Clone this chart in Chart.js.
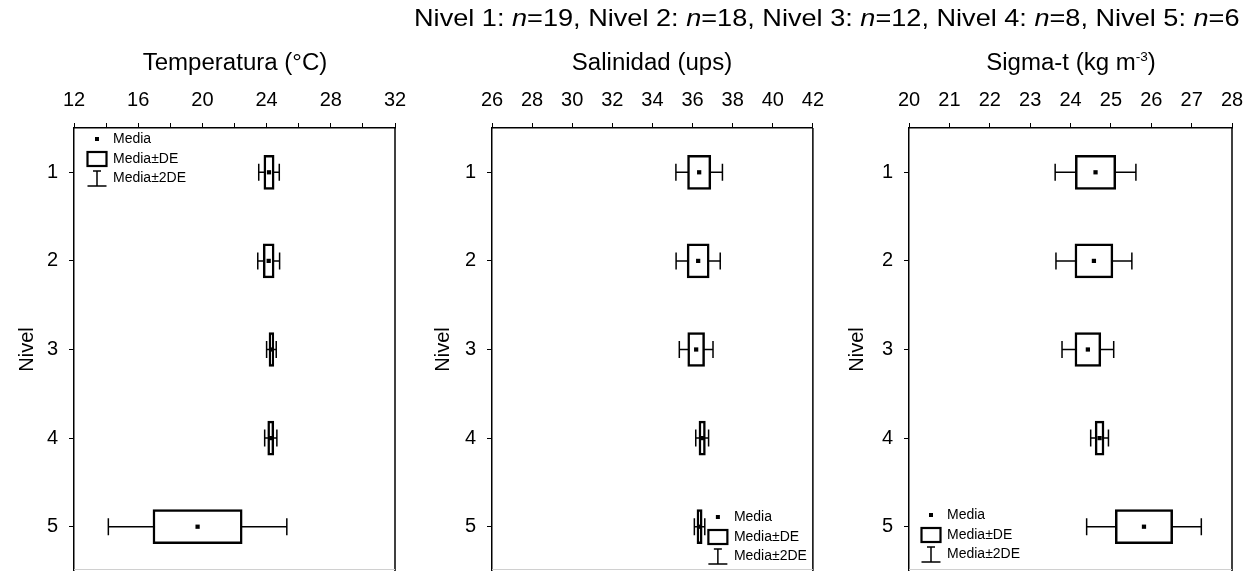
<!DOCTYPE html>
<html>
<head>
<meta charset="utf-8">
<script src="https://cdn.jsdelivr.net/npm/chart.js@4/dist/chart.umd.min.js"></script>
<style>
  html, body { margin: 0; padding: 0; background: #fff; }
  #page { position: relative; width: 1255px; height: 571px; overflow: hidden;
          font-family: "Liberation Sans", Arial, sans-serif; color: #000; }
  .cv { position: absolute; top: 0; }
  .txt { position: absolute; white-space: nowrap; line-height: 1; z-index: 2; }
  .title { font-size: 23px; transform: translate(-50%, -50%) scaleX(1.045); }
  #header { font-size: 24px; right: 15px; top: 18px; transform-origin: 100% 50%; transform: translateY(-50%) scaleX(1.13); }
  sup { font-size: 13px; vertical-align: 9px; line-height: 0; }
</style>
</head>
<body>
<div id="page">
  <div id="header" class="txt"></div>
  <div id="t1" class="txt title">Temperatura (°C)</div>
  <div id="t2" class="txt title">Salinidad (ups)</div>
  <div id="t3" class="txt title">Sigma-t (kg m<sup>-3</sup>)</div>
  <canvas id="c1" class="cv" width="420" height="575" style="left:0px"></canvas>
  <canvas id="c2" class="cv" width="415" height="575" style="left:420px"></canvas>
  <canvas id="c3" class="cv" width="420" height="575" style="left:835px"></canvas>
</div>
<script>
// Sampling levels and number of samples at each level
const levels  = ['1', '2', '3', '4', '5'];
const nCounts = [19, 18, 12, 8, 6];

// Temperature (°C): mean and standard deviation per level
const tempMean = [24.15, 24.13, 24.30, 24.26, 19.70];
const tempSD   = [0.32, 0.34, 0.15, 0.19, 2.78];

// Salinity (ups): mean and standard deviation per level
const salMean = [36.33, 36.28, 36.18, 36.48, 36.35];
const salSD   = [0.58, 0.55, 0.42, 0.16, 0.13];

// Sigma-t (kg m-3): mean and standard deviation per level
const sigMean = [24.62, 24.58, 24.43, 24.72, 25.82];
const sigSD   = [0.50, 0.47, 0.32, 0.11, 0.71];

// Axis ranges: [min, max, tick step, label every]
const tempAxis = [12, 32, 2, 4];
const salAxis  = [26, 42, 2, 2];
const sigAxis  = [20, 28, 1, 1];

// Legend entries
const legendLabels = ['Media', 'Media±DE', 'Media±2DE'];

const FONT = '"Liberation Sans", Arial, sans-serif';

document.getElementById('header').innerHTML =
  levels.map((l, i) => 'Nivel ' + l + ': <i>n</i>=' + nCounts[i]).join(', ');

// Whiskers (mean ± 2 SD), plot frame and the symbol legend
const boxPlotExtras = {
  id: 'boxPlotExtras',
  beforeDatasetsDraw(chart, args, opts) {
    const { ctx } = chart;
    const xs = chart.scales.x, ys = chart.scales.y;
    ctx.save();
    ctx.strokeStyle = '#000';
    ctx.lineWidth = 1.5;
    opts.mean.forEach((m, i) => {
      const y = ys.getPixelForValue(i);
      const x0 = xs.getPixelForValue(m - 2 * opts.sd[i]);
      const x1 = xs.getPixelForValue(m + 2 * opts.sd[i]);
      ctx.beginPath();
      ctx.moveTo(x0, y); ctx.lineTo(x1, y);
      ctx.moveTo(x0, y - 8.5); ctx.lineTo(x0, y + 8.5);
      ctx.moveTo(x1, y - 8.5); ctx.lineTo(x1, y + 8.5);
      ctx.stroke();
    });
    ctx.restore();
  },
  afterDraw(chart, args, opts) {
    const { ctx, chartArea: a } = chart;
    ctx.save();
    // right edge and the faint bottom edge of the frame
    ctx.strokeStyle = '#000';
    ctx.lineWidth = 1.5;
    ctx.beginPath();
    ctx.moveTo(a.right, a.top); ctx.lineTo(a.right, a.bottom);
    ctx.stroke();
    ctx.strokeStyle = '#d0d0d0';
    ctx.lineWidth = 1;
    ctx.beginPath();
    ctx.moveTo(a.left, a.bottom - 1.5); ctx.lineTo(a.right, a.bottom - 1.5);
    ctx.stroke();

    // legend: mean dot, SD box, 2 SD whisker
    const p = opts.legendAt(a);
    const cx = p.x, y0 = p.y;
    ctx.fillStyle = '#000';
    ctx.strokeStyle = '#000';
    ctx.fillRect(cx - 2, y0 - 2, 4, 4);
    ctx.lineWidth = 2.2;
    ctx.strokeRect(cx - 9.5, y0 + 13, 19, 14);
    ctx.lineWidth = 1.5;
    ctx.beginPath();
    ctx.moveTo(cx, y0 + 32); ctx.lineTo(cx, y0 + 47);
    ctx.moveTo(cx - 4, y0 + 32); ctx.lineTo(cx + 4, y0 + 32);
    ctx.moveTo(cx - 9.5, y0 + 47); ctx.lineTo(cx + 9.5, y0 + 47);
    ctx.stroke();
    ctx.font = '14px ' + FONT;
    ctx.textBaseline = 'middle';
    ctx.textAlign = 'left';
    ctx.fillText(legendLabels[0], cx + 16, y0);
    ctx.fillText(legendLabels[1], cx + 16, y0 + 20);
    ctx.fillText(legendLabels[2], cx + 16, y0 + 39);
    ctx.restore();
  }
};

function makePanel(id, mean, sd, axis, yAxisWidth, rightPad, yTitlePad, legendAt) {
  const [xMin, xMax, step, labelEvery] = axis;
  return new Chart(document.getElementById(id), {
    data: {
      labels: levels,
      datasets: [
        {
          type: 'bar',
          data: mean.map((m, i) => [m - sd[i], m + sd[i]]),
          backgroundColor: '#fff',
          borderColor: '#000',
          borderWidth: 2.5,
          borderSkipped: false,
          barThickness: 34,
          order: 2
        },
        {
          type: 'line',
          indexAxis: 'y',
          data: mean,
          showLine: false,
          pointStyle: 'rect',
          pointRadius: 3,
          pointBackgroundColor: '#000',
          pointBorderColor: '#000',
          pointBorderWidth: 0,
          order: 1
        }
      ]
    },
    options: {
      indexAxis: 'y',
      responsive: false,
      animation: false,
      devicePixelRatio: 1,
      layout: { padding: { left: 0, right: rightPad, top: 0, bottom: 0 } },
      plugins: {
        legend: { display: false },
        tooltip: { enabled: false },
        boxPlotExtras: { mean, sd, legendAt }
      },
      scales: {
        x: {
          type: 'linear', position: 'top', min: xMin, max: xMax,
          ticks: {
            stepSize: step, autoSkip: false, maxRotation: 0, padding: 11,
            color: '#000', font: { family: FONT, size: 20 },
            callback: (v) => (Math.round(v - xMin) % labelEvery === 0 ? String(v) : '')
          },
          grid: { display: true, drawOnChartArea: false, drawTicks: true, tickLength: 5, tickColor: '#000', tickWidth: 1 },
          border: { display: true, color: '#000', width: 1.5 },
          afterFit(s) { s.height = 128; }
        },
        y: {
          type: 'category', position: 'left', offset: true,
          ticks: { padding: 11, color: '#000', font: { family: FONT, size: 20 } },
          grid: { display: true, offset: false, drawOnChartArea: false, drawTicks: true, tickLength: 5, tickColor: '#000', tickWidth: 1 },
          border: { display: true, color: '#000', width: 1.5 },
          title: { display: true, text: 'Nivel', color: '#000', font: { family: FONT, size: 20 }, padding: { top: yTitlePad, bottom: 0 } },
          afterFit(s) { s.width = yAxisWidth; s.paddingTop = 0; s.paddingBottom = 0; }
        }
      }
    },
    plugins: [boxPlotExtras]
  });
}

const charts = [
  makePanel('c1', tempMean, tempSD, tempAxis, 74, 25, 15, (a) => ({ x: a.left + 23, y: a.top + 11 })),
  makePanel('c2', salMean, salSD, salAxis, 72, 21, 11, (a) => ({ x: a.right - 95, y: a.bottom - 54 })),
  makePanel('c3', sigMean, sigSD, sigAxis, 74, 23, 10, (a) => ({ x: a.left + 22, y: a.bottom - 56 }))
];

// Panel titles centred over each plot area
['t1', 't2', 't3'].forEach((tid, i) => {
  const c = charts[i];
  const left = parseFloat(c.canvas.style.left);
  const el = document.getElementById(tid);
  el.style.left = (left + (c.chartArea.left + c.chartArea.right) / 2) + 'px';
  el.style.top = '62px';
});
</script>
</body>
</html>
